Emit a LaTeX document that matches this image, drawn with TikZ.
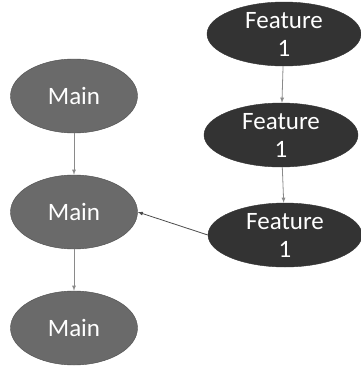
\documentclass[tikz,border=0pt]{standalone}
\usepackage{fontspec}
\setmainfont{Carlito}
\usetikzlibrary{shapes.geometric}
\definecolor{mainfill}{HTML}{6A6A6A}
\definecolor{featfill}{HTML}{333333}
\definecolor{linkgray}{HTML}{8A8A8A}
\tikzset{
  mainnode/.style={ellipse, draw=black!70, fill=mainfill, text=white, inner sep=0pt,
    minimum width=127pt, minimum height=74pt, font=\fontsize{25}{28}\selectfont},
  featnode/.style={ellipse, draw=black!80, fill=featfill, text=white, inner sep=0pt, align=center,
    minimum width=154pt, minimum height=64pt, font=\fontsize{25}{28}\selectfont},
  link/.style={draw=linkgray, line width=0.8pt, ->, >=latex}
}
\begin{document}
\begin{tikzpicture}[x=1pt, y=-1pt]
\useasboundingbox (0,0) rectangle (360,367);
\node[mainnode] (main1) at (74, 96) {Main};
\node[mainnode] (main2) at (74, 212) {Main};
\node[mainnode] (main3) at (74, 328) {Main};
\node[featnode] (feat1) at (284, 34) {Feature\\1};
\node[featnode] (feat2) at (281, 135) {Feature\\1};
\node[featnode] (feat3) at (285, 235) {Feature\\1};
\draw[link] (main1) -- (main2);
\draw[link] (main2) -- (main3);
\draw[link] (feat1) -- (feat2);
\draw[link] (feat2) -- (feat3);
\draw[link, draw=black!70] (feat3.west) -- (main2.east);
\end{tikzpicture}
\end{document}
